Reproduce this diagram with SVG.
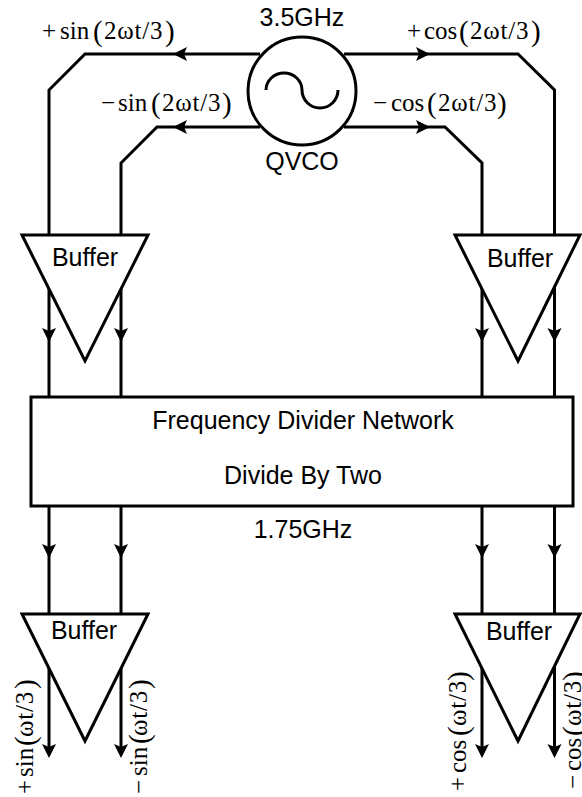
<svg xmlns="http://www.w3.org/2000/svg" width="582" height="797" viewBox="0 0 582 797">
<defs>
<style>
.s{fill:none;stroke:#000;stroke-width:3;stroke-linejoin:miter}
.w{fill:#fff;stroke:#000;stroke-width:3;stroke-linejoin:miter}
.a{font-family:"Liberation Sans",Arial,sans-serif;font-size:25px;fill:#000;text-anchor:middle}
.m{font-family:"Liberation Serif","Times New Roman",serif;font-size:25px;fill:#000}
.t{letter-spacing:.8px}
.p{font-size:29px}
</style>
<polygon id="h" points="0,0 -7,-14 0,-11 7,-14" fill="#000"/>
<polygon id="l" points="0,0 14,-7 11,0 14,7" fill="#000"/>
<polygon id="r" points="0,0 -14,-7 -11,0 -14,7" fill="#000"/>
</defs>
<rect width="582" height="797" fill="#fff"/>
<g id="connectors">
<path class="s" d="M260 54H85L49 90V397M260 127H157L121 163V397M344 54H518L554.500 90V397M344 127H445L482 163V397"/>
<path class="s" d="M49 506V750M121 506V750M482 506V750M554.500 506V750"/>
<use href="#l" x="173" y="54"/><use href="#l" x="173" y="127"/>
<use href="#r" x="430" y="54"/><use href="#r" x="430" y="127"/>
<use href="#h" x="49" y="342"/><use href="#h" x="121" y="342"/><use href="#h" x="482" y="342"/><use href="#h" x="554.500" y="342"/>
<use href="#h" x="49" y="558"/><use href="#h" x="121" y="558"/><use href="#h" x="482" y="558"/><use href="#h" x="554.500" y="558"/>
<use href="#h" x="49" y="758"/><use href="#h" x="121" y="758"/><use href="#h" x="482" y="758"/><use href="#h" x="554.500" y="758"/>
</g>
<g id="qvco">
<circle class="w" cx="302" cy="91" r="54"/>
<path class="s" d="M266 90A18 17 0 0 1 302 90A18 18 0 0 0 338 90"/>
<text class="a" x="302" y="26">3.5GHz</text>
<text class="a" x="302" y="170">QVCO</text>
</g>
<g id="buffer-top-left"><polygon class="w" points="22,235 148,235 85,361"/><text class="a" x="85" y="266">Buffer</text></g>
<g id="buffer-top-right"><polygon class="w" points="455,235 580,235 518,361"/><text class="a" x="520" y="267">Buffer</text></g>
<g id="divider"><rect class="w" x="31" y="397" width="542" height="109"/>
<text class="a" x="303" y="429">Frequency Divider Network</text>
<text class="a" x="303" y="484">Divide By Two</text></g>
<text class="a" x="303" y="538">1.75GHz</text>
<g id="buffer-bottom-left"><polygon class="w" points="22,614 148,614 85,741"/><text class="a" x="84" y="639">Buffer</text></g>
<g id="buffer-bottom-right"><polygon class="w" points="455,614 580,614 518,741"/><text class="a" x="519" y="640">Buffer</text></g>
<g id="labels">
<text class="m" x="42" y="39">+</text><text class="m" x="60" y="39">sin</text><text class="m p" x="93" y="41">(</text><text class="m t" x="104" y="39">2ωt/3</text><text class="m p" x="165" y="41">)</text>
<text class="m" x="101" y="111">−</text><text class="m" x="118" y="111">sin</text><text class="m p" x="151" y="113">(</text><text class="m t" x="162" y="111">2ωt/3</text><text class="m p" x="222" y="113">)</text>
<text class="m" x="407" y="39">+</text><text class="m" x="424" y="39">cos</text><text class="m p" x="459" y="41">(</text><text class="m t" x="470" y="39">2ωt/3</text><text class="m p" x="531" y="41">)</text>
<text class="m" x="373" y="111">−</text><text class="m" x="391" y="111">cos</text><text class="m p" x="427" y="113">(</text><text class="m t" x="438" y="111">2ωt/3</text><text class="m p" x="497" y="113">)</text>
<g transform="translate(33,794) rotate(-90)"><text class="m" x="0" y="0">+</text><text class="m" x="17" y="0">sin</text><text class="m p" x="48" y="2">(</text><text class="m t" x="57" y="0">ωt/3</text><text class="m p" x="105" y="2">)</text></g>
<g transform="translate(147,794) rotate(-90)"><text class="m" x="0" y="0">−</text><text class="m" x="18" y="0">sin</text><text class="m p" x="50" y="2">(</text><text class="m t" x="58" y="0">ωt/3</text><text class="m p" x="105" y="2">)</text></g>
<g transform="translate(466,791) rotate(-90)"><text class="m" x="0" y="0">+</text><text class="m" x="18" y="0">cos</text><text class="m p" x="55" y="2">(</text><text class="m t" x="65" y="0">ωt/3</text><text class="m p" x="110" y="2">)</text></g>
<g transform="translate(581,789) rotate(-90)"><text class="m" x="0" y="0">−</text><text class="m" x="18" y="0">cos</text><text class="m p" x="53" y="2">(</text><text class="m t" x="63" y="0">ωt/3</text><text class="m p" x="108" y="2">)</text></g>
</g>
</svg>
